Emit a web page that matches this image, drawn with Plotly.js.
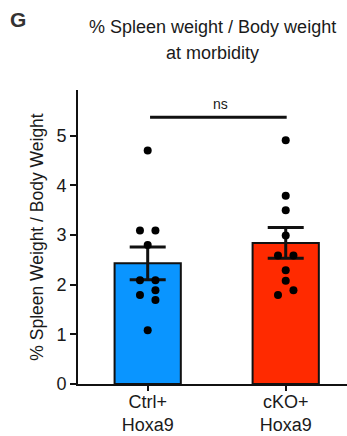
<!DOCTYPE html>
<html>
<head>
<meta charset="utf-8">
<script src="https://cdn.plot.ly/plotly-3.0.1.min.js"></script>
<style>html,body{margin:0;padding:0;background:#fff;}#chart{width:347px;height:436px;}</style>
</head>
<body>
<div id="chart"></div>
<script>
// ---- data ----
const categories = ["Ctrl+<br>Hoxa9", "cKO+<br>Hoxa9"];
const barMeans = [2.43, 2.84];
const barSEM = [0.33, 0.31];
const ctrlPoints = [4.70, 3.09, 3.09, 2.80, 2.09, 2.09, 1.79, 1.89, 1.69, 1.08];
const ckoPoints = [4.91, 3.79, 3.50, 2.99, 2.59, 2.59, 2.29, 2.08, 1.79, 1.89];
const yTicks = [0, 1, 2, 3, 4, 5];
const sigLabel = "ns";

// ---- layout helpers (dot placement columns: -1 left, 0 centre, +1 right) ----
const ctrlCols = [0, -1, 1, 0, -1, 1, -1, 1, 1, 0];
const ckoCols = [0, 0, 0, 0, -1, 1, 0, 0, -1, 1];
const colStep = 0.056;
const catPos = [0, 1];

const font = "'Liberation Sans', Arial, Helvetica, sans-serif";
const txt = "#1a1a1a";

const bars = {
  type: "bar",
  x: catPos,
  y: barMeans,
  width: 0.48,
  marker: { color: ["#0a95ff", "#ff2a00"], line: { color: "#111", width: 2 } },
  error_y: { type: "data", array: barSEM, visible: true, color: "#111", thickness: 3, width: 18 },
  hoverinfo: "none",
  showlegend: false
};
const dotsCtrl = {
  type: "scatter", mode: "markers",
  x: ctrlPoints.map((v, i) => catPos[0] + ctrlCols[i] * colStep),
  y: ctrlPoints,
  marker: { color: "#000", size: 8 },
  showlegend: false, hoverinfo: "none"
};
const dotsCko = {
  type: "scatter", mode: "markers",
  x: ckoPoints.map((v, i) => catPos[1] + ckoCols[i] * colStep),
  y: ckoPoints,
  marker: { color: "#000", size: 8 },
  showlegend: false, hoverinfo: "none"
};

const layout = {
  width: 347, height: 436,
  margin: { l: 78, r: 0, t: 90, b: 52 },
  paper_bgcolor: "#fff", plot_bgcolor: "#fff",
  font: { family: font, size: 18, color: txt },
  xaxis: {
    range: [-0.505, 1.444],
    tickvals: catPos, ticktext: categories,
    showline: true, linecolor: "#111", linewidth: 2,
    ticks: "outside", ticklen: 5, tickwidth: 2, tickcolor: "#111",
    ticklabelstandoff: -5,
    showgrid: false, zeroline: false,
    tickfont: { family: font, size: 18, color: txt }
  },
  yaxis: {
    range: [0, 5.92],
    tickvals: yTicks,
    showline: true, linecolor: "#111", linewidth: 2,
    ticks: "outside", ticklen: 6, tickwidth: 2, tickcolor: "#111",
    showgrid: false, zeroline: false,
    tickfont: { family: font, size: 18, color: txt },
    title: { text: "% Spleen Weight / Body Weight", font: { family: font, size: 17.5, color: txt }, standoff: 8 }
  },
  shapes: [
    { type: "line", xref: "x", yref: "y", x0: 0.017, x1: 1.007, y0: 5.37, y1: 5.37, line: { color: "#111", width: 3 } }
  ],
  annotations: [
    { text: sigLabel, xref: "x", yref: "y", x: 0.524, y: 5.37, yanchor: "bottom", yshift: 3, showarrow: false, font: { family: font, size: 14, color: txt } },
    { text: "% Spleen weight / Body weight", xref: "paper", yref: "paper", x: 0.5, y: 1.214, yanchor: "middle", showarrow: false, font: { family: font, size: 18, color: txt } },
    { text: "at morbidity", xref: "paper", yref: "paper", x: 0.5, y: 1.126, yanchor: "middle", showarrow: false, font: { family: font, size: 18, color: txt } },
    { text: "<b>G</b>", xref: "paper", yref: "paper", x: -0.223, y: 1.239, xanchor: "center", yanchor: "middle", showarrow: false, font: { family: font, size: 21, color: "#333" } }
  ]
};

Plotly.newPlot("chart", [bars, dotsCtrl, dotsCko], layout, { staticPlot: true, displayModeBar: false });
</script>
</body>
</html>
